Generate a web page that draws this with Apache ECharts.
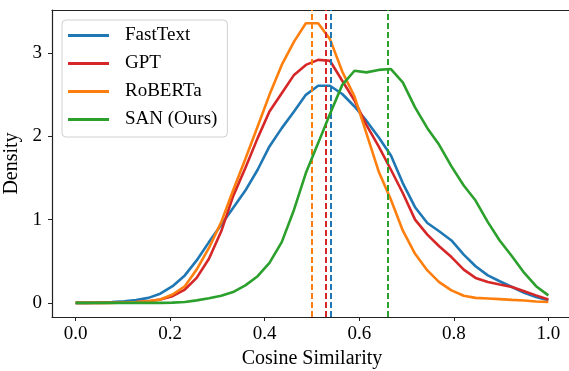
<!DOCTYPE html>
<html>
<head>
<meta charset="utf-8">
<script src="https://cdn.jsdelivr.net/npm/echarts@6/dist/echarts.min.js"></script>
<style>
  html, body { margin: 0; padding: 0; background: #fff; overflow: hidden; }
  #main { width: 569px; height: 371px; }
</style>
</head>
<body>
<div id="main"></div>
<script>
// sample points on the cosine-similarity axis (40 points, 0..1)
const xs = [0.000, 0.026, 0.051, 0.077, 0.103, 0.128, 0.154, 0.179, 0.205, 0.231,
  0.256, 0.282, 0.308, 0.333, 0.359, 0.385, 0.410, 0.436, 0.462, 0.487,
  0.513, 0.538, 0.564, 0.590, 0.615, 0.641, 0.667, 0.692, 0.718, 0.744,
  0.769, 0.795, 0.821, 0.846, 0.872, 0.897, 0.923, 0.949, 0.974, 1.000];

const fastText = [0, 0, 0.005, 0.01, 0.02, 0.035, 0.06, 0.11, 0.2, 0.33,
  0.51, 0.73, 0.94, 1.14, 1.35, 1.6, 1.88, 2.1, 2.3, 2.5,
  2.61, 2.61, 2.51, 2.36, 2.19, 1.99, 1.77, 1.44, 1.15, 0.96,
  0.86, 0.75, 0.58, 0.44, 0.33, 0.26, 0.19, 0.12, 0.07, 0.03];

const gpt = [0, 0, 0, 0.002, 0.005, 0.01, 0.02, 0.04, 0.08, 0.16,
  0.3, 0.53, 0.86, 1.28, 1.62, 1.98, 2.3, 2.52, 2.74, 2.86,
  2.92, 2.91, 2.67, 2.43, 2.14, 1.88, 1.6, 1.32, 1.0, 0.82,
  0.68, 0.55, 0.4, 0.3, 0.25, 0.22, 0.19, 0.14, 0.09, 0.04];

const roberta = [0, 0, 0, 0, 0.005, 0.01, 0.02, 0.04, 0.1, 0.2,
  0.4, 0.66, 0.97, 1.35, 1.73, 2.12, 2.5, 2.86, 3.14, 3.36,
  3.36, 3.17, 2.78, 2.48, 2.04, 1.58, 1.24, 0.87, 0.59, 0.39,
  0.25, 0.15, 0.085, 0.06, 0.053, 0.045, 0.036, 0.028, 0.017, 0.01];

const san = [0, 0, 0, 0, 0, 0, 0, 0, 0.003, 0.01,
  0.03, 0.055, 0.085, 0.13, 0.21, 0.32, 0.48, 0.73, 1.12, 1.56,
  1.92, 2.27, 2.62, 2.79, 2.77, 2.8, 2.81, 2.65, 2.35, 2.1,
  1.9, 1.64, 1.41, 1.23, 0.97, 0.75, 0.56, 0.36, 0.2, 0.09];

// mean similarity of each model (dashed vertical lines)
const names = ["FastText", "GPT", "RoBERTa", "SAN (Ours)"];
const means = [0.542, 0.534, 0.498, 0.656];
const colors = ["#1f77b4", "#d62728", "#ff7f0e", "#2ca02c"];
const xTicks = [0, 0.2, 0.4, 0.6, 0.8, 1.0];
const yTicks = [0, 1, 2, 3];

const FONT = "Liberation Serif";
const allSeries = [fastText, gpt, roberta, san];

const chart = echarts.init(document.getElementById("main"), null, { renderer: "canvas" });

const lineSeries = names.map((name, k) => ({
  name,
  type: "line",
  showSymbol: false,
  symbol: "none",
  color: colors[k],
  lineStyle: { width: 2.6, color: colors[k] },
  data: xs.map((x, i) => [x, allSeries[k][i]]),
  z: 2 + k,
}));

// mean lines drawn after all curves, like axvline calls
const meanSeries = names.map((name, k) => ({
  name,
  type: "line",
  data: [],
  z: 10 + k,
  markLine: {
    silent: true,
    symbol: ["none", "none"],
    label: { show: false },
    lineStyle: { type: [6, 3], width: 2, color: colors[k] },
    data: [{ xAxis: means[k] }],
  },
}));

const spine = { color: "#222", width: 1.2 };

const option = {
  animation: false,
  backgroundColor: "#fff",
  textStyle: { fontFamily: FONT, color: "#000" },
  grid: {
    left: 52, width: 520, top: 10, bottom: 54,
    containLabel: false,
    outerBoundsMode: "none",
  },
  legend: {
    orient: "vertical",
    left: 62, top: 20,
    data: names,
    icon: "rect",
    itemWidth: 41,
    itemHeight: 3,
    itemGap: 9,
    padding: [6, 10, 8, 6],
    backgroundColor: "rgba(255,255,255,0.8)",
    borderColor: "#d0d0d0",
    borderWidth: 1,
    borderRadius: 4,
    textStyle: { fontFamily: FONT, fontSize: 19, color: "#000", padding: [0, 0, 0, 11] },
  },
  xAxis: [
    {
      type: "value",
      position: "bottom",
      min: -0.05, max: 1.05,
      name: "Cosine Similarity",
      nameLocation: "middle",
      nameGap: 30,
      nameTextStyle: { fontFamily: FONT, fontSize: 20, color: "#000" },
      axisLine: { show: true, onZero: false, lineStyle: spine },
      splitLine: { show: false },
      axisTick: { show: true, length: 4, customValues: xTicks, lineStyle: { color: "#222" } },
      axisLabel: {
        customValues: xTicks,
        fontFamily: FONT, fontSize: 19, color: "#000", margin: 8,
        formatter: (v) => v.toFixed(1),
      },
    },
    {
      // top spine only
      type: "value",
      position: "top",
      min: -0.05, max: 1.05,
      axisLine: { show: true, onZero: false, lineStyle: spine },
      axisTick: { show: false },
      axisLabel: { show: false },
      splitLine: { show: false },
    },
  ],
  yAxis: {
    type: "value",
    min: -0.17, max: 3.52,
    name: "Density",
    nameLocation: "middle",
    nameGap: 24,
    nameTextStyle: { fontFamily: FONT, fontSize: 20, color: "#000" },
    axisLine: { show: true, onZero: false, lineStyle: spine },
    splitLine: { show: false },
    axisTick: { show: true, length: 4, customValues: yTicks, lineStyle: { color: "#222" } },
    axisLabel: {
      customValues: yTicks,
      fontFamily: FONT, fontSize: 19, color: "#000", margin: 10,
      formatter: (v) => String(Math.round(v)),
    },
  },
  series: lineSeries.concat(meanSeries),
};

chart.setOption(option);
</script>
</body>
</html>
